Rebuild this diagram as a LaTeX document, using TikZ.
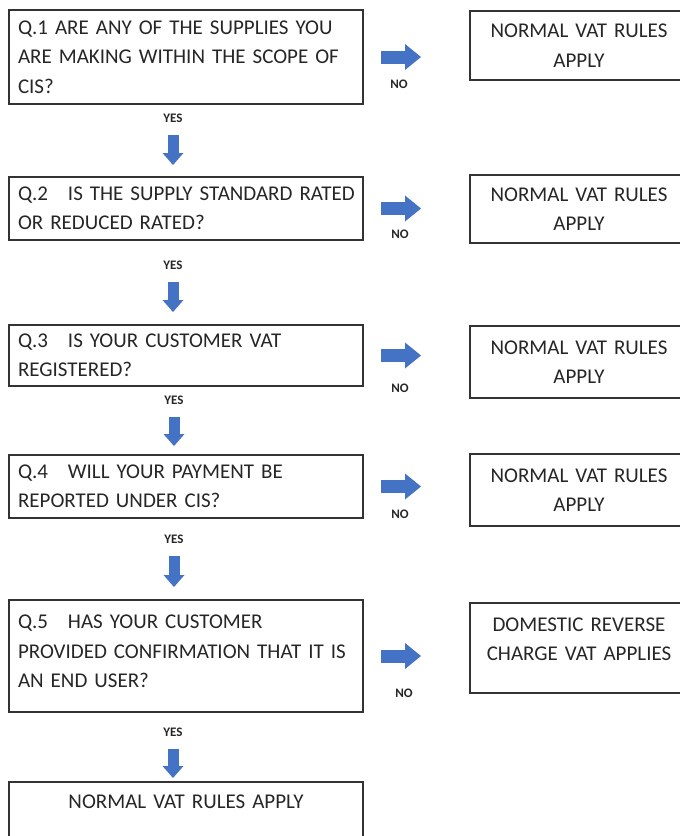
\documentclass[tikz,border=0pt]{standalone}
\usepackage{fontspec}
\setmainfont{Carlito}
\usetikzlibrary{arrows.meta,positioning}
\definecolor{arrowblue}{HTML}{4472C4}
\newcommand{\qno}[1]{\makebox[50pt][l]{#1}}

\begin{document}
\begin{tikzpicture}[x=1pt,y=-1pt,
  box/.style={draw=black!80,line width=1.1pt,outer sep=0pt,anchor=north west,
    font=\fontsize{21}{29.5}\selectfont,text=black!85},
  qbox/.style={box,text width=336pt,inner xsep=9pt,align=left},
  rbox/.style={box,text width=198pt,inner xsep=10pt,align=center},
  lbl/.style={font=\fontsize{13}{13}\selectfont\bfseries,inner sep=0pt,text=black!85},
  noarrow/.style={line width=13pt,arrowblue,
    -{Triangle[length=16pt,width=26pt,line width=0pt]},shorten <=18pt,shorten >=49pt},
  yesarrow/.style={line width=11pt,arrowblue,
    -{Triangle[length=12pt,width=21pt,line width=0pt]},shorten <=12pt}]
  % 画面の範囲
  \clip (0,0) rectangle (680,836);
  % 質問の箱
  \node[qbox,minimum height=94pt] (q1) at (9,10)
    {Q.1 ARE ANY OF THE SUPPLIES YOU\\ARE MAKING WITHIN THE SCOPE OF\\CIS?};
  \node[qbox,minimum height=63pt] (q2) at (9,177)
    {\mbox{\qno{Q.2}IS THE SUPPLY STANDARD RATED}\\OR REDUCED RATED?};
  \node[qbox,minimum height=61pt] (q3) at (9,325)
    {\qno{Q.3}IS YOUR CUSTOMER VAT\\REGISTERED?};
  \node[qbox,minimum height=63pt] (q4) at (9,455)
    {\qno{Q.4}WILL YOUR PAYMENT BE\\REPORTED UNDER CIS?};
  \node[qbox,minimum height=112pt,text depth=68pt] (q5) at (9,600)
    {\qno{Q.5}HAS YOUR CUSTOMER\\\mbox{PROVIDED CONFIRMATION THAT IT IS}\\AN END USER?};
  \node[qbox,align=center,minimum height=80pt,text depth=40pt] (fin) at (9,782)
    {NORMAL VAT RULES APPLY};
  % 右側の結果
  \node[rbox,minimum height=69pt] (r1) at (470,11) {NORMAL VAT RULES\\APPLY};
  \node[rbox,minimum height=68pt] (r2) at (470,175) {NORMAL VAT RULES\\APPLY};
  \node[rbox,minimum height=72pt] (r3) at (470,326) {NORMAL VAT RULES\\APPLY};
  \node[rbox,minimum height=72pt] (r4) at (470,454) {NORMAL VAT RULES\\APPLY};
  \node[rbox,minimum height=90pt,text depth=47.5pt] (r5) at (470,603)
    {DOMESTIC REVERSE\\CHARGE VAT APPLIES};
  % YES / NO
  \node[lbl] (yes1) at (173,118) {YES};
  \node[lbl] (yes2) at (173,265) {YES};
  \node[lbl] (yes3) at (174,400) {YES};
  \node[lbl] (yes4) at (174,539) {YES};
  \node[lbl] (yes5) at (173,732) {YES};
  \node[lbl] (no1) at (399,84) {NO};
  \node[lbl] (no2) at (400,234) {NO};
  \node[lbl] (no3) at (400,388) {NO};
  \node[lbl] (no4) at (400,514) {NO};
  \node[lbl] (no5) at (404,693) {NO};
  % 矢印
  \foreach \a/\b in {q1/r1,q2/r2,q3/r3,q4/r4,q5/r5}
    \draw[noarrow] (\a.east) -- (\a.east -| \b.west);
  \foreach \y/\b/\g in {yes1/q2/12,yes2/q3/13,yes3/q4/9,yes4/q5/13,yes5/fin/4}
    \draw[yesarrow,shorten >=\g pt] (\y.south) -- (\y.south |- \b.north);
\end{tikzpicture}
\end{document}
